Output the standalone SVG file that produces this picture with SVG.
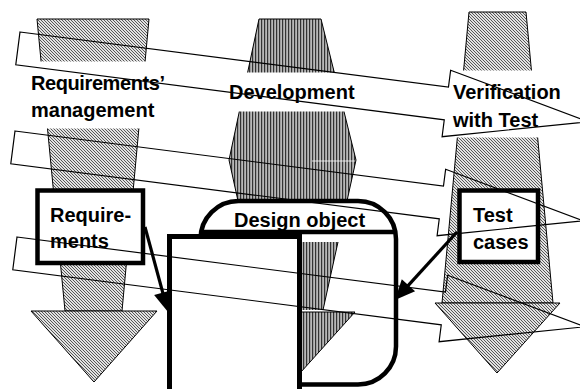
<svg xmlns="http://www.w3.org/2000/svg" width="580" height="389" viewBox="0 0 580 389">
<defs>
<pattern id="diag" width="3" height="3" patternUnits="userSpaceOnUse"><rect width="3" height="3" fill="#e2e2e2"/><path d="M-1,-1 L4,4 M-1,2 L1,4 M2,-1 L4,1" stroke="#333" stroke-width="0.8"/></pattern>
<pattern id="vert" width="3" height="3" patternUnits="userSpaceOnUse"><rect width="3" height="3" fill="#b8b8b8"/><rect width="1.2" height="3" fill="#333"/></pattern>
<marker id="ah" markerUnits="userSpaceOnUse" markerWidth="22" markerHeight="20" viewBox="-21 -10 22 20" refX="-10" refY="0" orient="auto"><path d="M0,0 L-20,-9 L-20,9 Z" fill="#000"/></marker>
<path id="band" d="M0,0 L432,0 L432,-17 L575,16.5 L432,50 L432,33 L0,33 Z"/>
</defs>
<style>
.hd{fill:url(#diag);stroke:#000;stroke-width:1}
.hv{fill:url(#vert);stroke:#000;stroke-width:1}
.gap{fill:#fff}
.t{font-family:"Liberation Sans",Arial,sans-serif;font-weight:bold;font-size:20px;fill:#000}
.box{fill:#fff;stroke:#000;stroke-width:4.5}
.band{fill:none;stroke:#000;stroke-width:1.2}
.con{fill:none;stroke:#000;stroke-width:3.2;marker-end:url(#ah)}
</style>
<rect width="580" height="389" fill="#fff"/>

<g id="col-requirements">
<polygon class="hd" points="37,19 149,19 122,311 65,311"/>
<polygon class="hd" points="31,311 157,311 94,382"/>
<rect class="gap" x="25" y="61.5" width="140" height="67"/>
</g>
<g id="col-development">
<polygon class="hv" points="259,19 321,19 356,160 323,310 262,310 229,160"/>
<line x1="312" y1="161" x2="355" y2="161" stroke="#fff" stroke-width="0.8"/>
<rect class="gap" x="220" y="72.5" width="145" height="39"/>
</g>
<g id="col-verification">
<polygon class="hd" points="469,12 526,12 553,303 442,303"/>
<polygon class="hd" points="435,303 560,303 497,373"/>
<rect class="gap" x="440" y="70.5" width="110" height="67"/>
</g>

<g id="label-requirements-management">
<text class="t" x="31" y="90" textLength="134">Requirements’</text>
<text class="t" x="31" y="117">management</text>
</g>
<g id="label-development">
<text class="t" x="229" y="99">Development</text>
</g>
<g id="label-verification">
<text class="t" x="453" y="99">Verification</text>
<text class="t" x="453" y="127">with Test</text>
</g>

<g id="requirements">
<rect class="box" x="37.5" y="190.5" width="105.5" height="72.5"/>
<text class="t" x="50" y="222">Require-</text>
<text class="t" x="50" y="248">ments</text>
</g>
<g id="test-cases">
<rect class="box" x="459.5" y="190.5" width="78.5" height="71.5"/>
<text class="t" x="473" y="222">Test</text>
<text class="t" x="473" y="249">cases</text>
</g>

<g id="design-object">
<rect x="200.5" y="201" width="195.5" height="183.5" rx="38" ry="38" fill="#fff" stroke="#000" stroke-width="4.5"/>
<polygon points="246,242 338,242 323,310 262,310" fill="url(#vert)"/>
<line x1="338" y1="242" x2="323" y2="310" stroke="#000" stroke-width="1"/>
<polygon class="hv" points="230,312 355,312 292,382"/>
<text class="t" x="234" y="227">Design object</text>
<line x1="200" y1="232" x2="396" y2="232" stroke="#000" stroke-width="4.5"/>
</g>

<g id="front-object">
<rect x="169.5" y="236.5" width="130" height="170" fill="#fff" stroke="#000" stroke-width="5"/>
</g>

<g id="connectors">
<path class="con" d="M145,227 L165.4,302.3"/>
<path class="con" d="M457,232 L401.7,292.6"/>
</g>

<g id="bands">
<use href="#band" class="band" transform="translate(20,32) rotate(7.33)"/>
<use href="#band" class="band" transform="translate(15,131) rotate(7.33)"/>
<use href="#band" class="band" transform="translate(17,237) rotate(7.33)"/>
</g>
</svg>
